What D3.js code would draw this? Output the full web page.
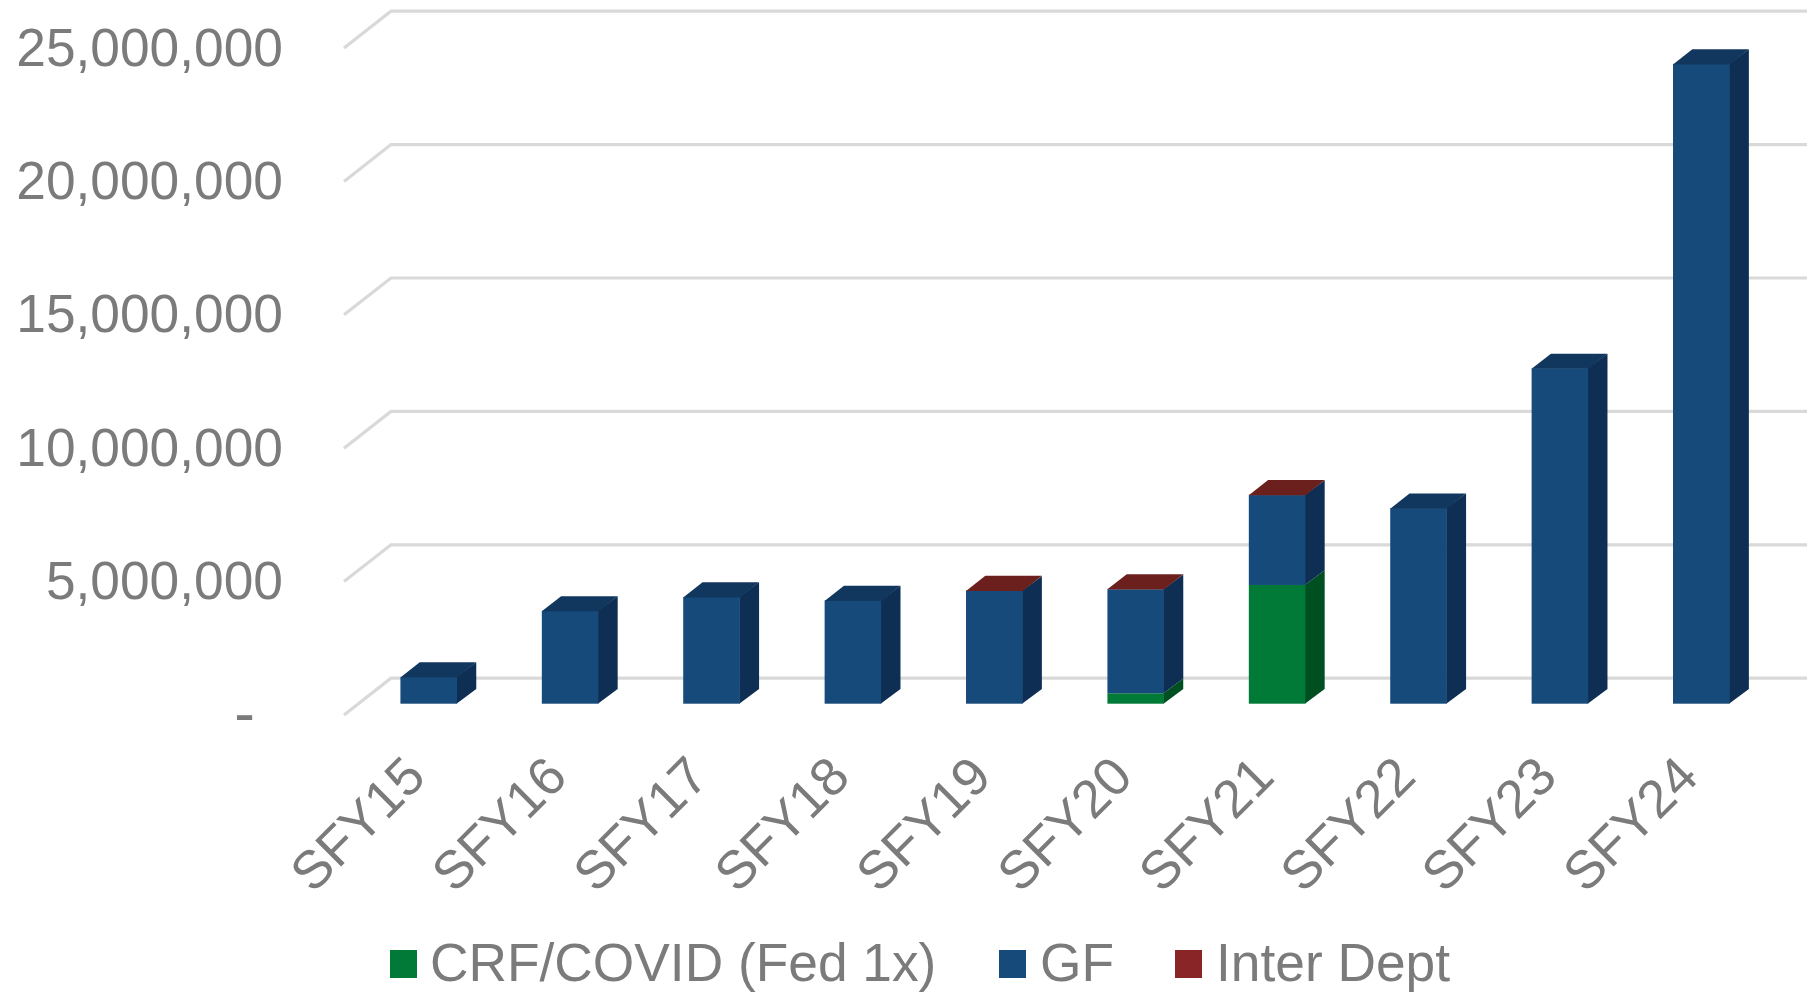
<!DOCTYPE html>
<html><head><meta charset="utf-8">
<style>
html,body{margin:0;padding:0;background:#fff;overflow:hidden}
svg{display:block}
text{font-family:"Liberation Sans",Arial,sans-serif;fill:#7b7b7b}
</style>
<script src="https://cdn.jsdelivr.net/npm/d3@7/dist/d3.min.js"></script>
</head><body><svg id="c" width="1819" height="994"></svg>
<script>
const categories=["SFY15","SFY16","SFY17","SFY18","SFY19","SFY20","SFY21","SFY22","SFY23","SFY24"];
const seriesNames=["CRF/COVID (Fed 1x)","GF","Inter Dept"];
const crf=[0,0,0,0,0,390000,4450000,0,0,0];
const gf=[1000000,3480000,4000000,3870000,4230000,3900000,3370000,7330000,12570000,23980000];
const inter=[0,0,0,0,15000,15000,15000,0,0,0];
const yTicks=[0,5000000,10000000,15000000,20000000,25000000];
const faceColors=["#017a38","#164a7b","#8a2527"];
const sideColors=["#004f20","#0f2e53","#0f2e53"];
const topColors=["#004f20","#12375f","#6b201e"];
const legendColors=["#017a38","#164a7b","#8a2527"];

const svg=d3.select("#c");
const x=d3.scaleBand().domain(categories).range([358,1772]).paddingInner(0.6).paddingOuter(0.3);
const y=d3.scaleLinear().domain([0,25000000]).range([703.7,36.7]);
const depthX=19.3,depthY=14.7;
const backDy=-25.5,frontDy=11.3;
const wallBackL=391,wallBackR=1807,wallFrontL=344;

// walls / gridlines
const grid=svg.append("g").attr("fill","none").attr("stroke","#d9d9d9").attr("stroke-width",3.2);
yTicks.forEach(v=>{
  grid.append("path").attr("d",`M${wallFrontL},${y(v)+frontDy}L${wallBackL},${y(v)+backDy}L${wallBackR},${y(v)+backDy}`);
});

// y axis
const axY=d3.axisLeft(d3.scaleLinear().domain(y.domain()).range(y.range().map(r=>r+frontDy)))
  .tickValues(yTicks).tickSize(0).tickPadding(0)
  .tickFormat(v=>v===0?"-":d3.format(",")(v));
const gy=svg.append("g").attr("transform","translate(283,0)").call(axY);
gy.select(".domain").remove();
gy.selectAll("text").style("font-size","53.3px");
gy.selectAll(".tick").filter(d=>d===0).select("text").attr("x",-28).attr("dy","0.3em").style("font-size","62px");

// x axis
const axX=d3.axisBottom(x).tickSize(0).tickPadding(0);
const gx=svg.append("g").attr("transform","translate(-27,753)").call(axX);
gx.select(".domain").remove();
gx.selectAll("text").style("font-size","53.3px").attr("text-anchor","end").attr("dy","0.7em")
  .attr("transform","rotate(-45)").attr("x",0).attr("y",0);

// bars
const stacks=d3.stack().keys([0,1,2]).value((d,k)=>[crf,gf,inter][k][d])(categories.map((_,i)=>i));
const bars=svg.append("g");
categories.forEach((c,i)=>{
  const x0=x(c),x1=x0+x.bandwidth();
  const present=stacks.filter(s=>s[i][1]>s[i][0]);
  present.forEach(s=>{
    const k=s.key,yb=y(s[i][0]),yt=y(s[i][1]);
    bars.append("polygon").attr("fill",sideColors[k])
      .attr("points",[[x1-0.5,yb],[x1+depthX,yb-depthY],[x1+depthX,yt-depthY],[x1-0.5,yt]].join(" "));
    bars.append("rect").attr("x",x0).attr("y",yt).attr("width",x.bandwidth()).attr("height",yb-yt).attr("fill",faceColors[k]);
  });
  const t=present[present.length-1],yt=y(t[i][1]);
  bars.append("polygon").attr("fill",topColors[t.key])
    .attr("points",[[x0,yt+0.5],[x0+depthX,yt-depthY],[x1+depthX,yt-depthY],[x1,yt+0.5]].join(" "));
});

// legend
const legendSwatchX=[390,999,1175],legendTextX=[430,1040,1216];
const lg=svg.append("g");
seriesNames.forEach((n,i)=>{
  lg.append("rect").attr("x",legendSwatchX[i]).attr("y",950).attr("width",27).attr("height",28).attr("fill",legendColors[i]);
  lg.append("text").attr("x",legendTextX[i]).attr("y",981).style("font-size","53.3px").text(n);
});
</script></body></html>
